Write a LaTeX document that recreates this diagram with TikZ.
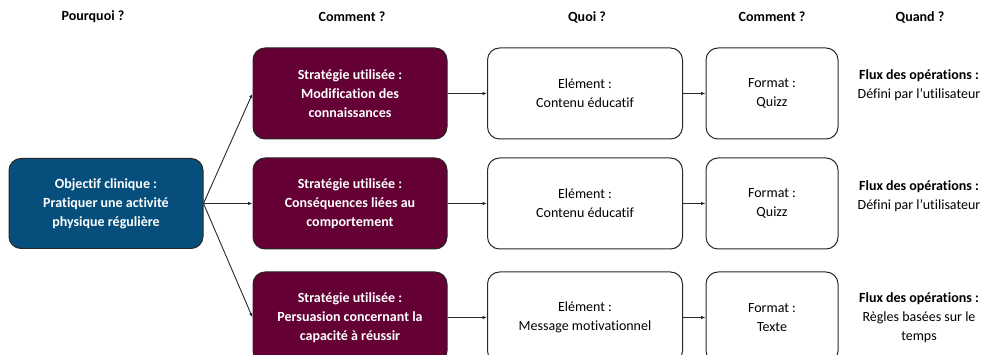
\documentclass[tikz,border=0pt]{standalone}
\usepackage{fontspec}
\setmainfont[Ligatures={NoCommon}]{Carlito}
\usetikzlibrary{arrows.meta}
\definecolor{bluebox}{RGB}{6,79,124}
\definecolor{maroon}{RGB}{100,0,52}
\definecolor{edge}{RGB}{40,40,40}
\begin{document}
\begin{tikzpicture}[x=1pt,y=1pt,
  base/.style={draw=edge,line width=1pt,rounded corners=12pt,align=center,inner sep=0pt,font=\fontsize{14}{19}\selectfont},
  goalbox/.style={base,fill=bluebox,text=white,font=\bfseries\fontsize{14}{19}\selectfont,minimum width=194pt,minimum height=90pt},
  stratbox/.style={base,fill=maroon,text=white,font=\bfseries\fontsize{14}{19}\selectfont,minimum width=194pt,minimum height=91pt},
  elembox/.style={base,fill=white,minimum width=195pt,minimum height=91pt},
  fmtbox/.style={base,fill=white,minimum width=132pt,minimum height=91pt},
  fluxtext/.style={align=center,inner sep=0pt,font=\fontsize{14}{19}\selectfont},
  header/.style={inner sep=0pt,font=\bfseries\fontsize{14}{16}\selectfont},
  conn/.style={draw=edge,line width=0.9pt,-{Latex[length=4.5pt,width=3.5pt]}}]
\useasboundingbox (0,0) rectangle (984,355);
\begin{scope}
\clip (0,0) rectangle (984,355);
% headers
\node[header] (h1) at (93,338) {Pourquoi ?};
\node[header] (h2) at (352,338) {Comment ?};
\node[header] (h3) at (587,338) {Quoi ?};
\node[header] (h4) at (772,338) {Comment ?};
\node[header] (h5) at (920,338) {Quand ?};
% goal
\node[goalbox] (goal) at (106,151.5) {Objectif clinique :\\Pratiquer une activité\\physique régulière};
% strategies
\node[stratbox] (s1) at (350,261.5) {Stratégie utilisée :\\Modification des\\connaissances};
\node[stratbox] (s2) at (350,151.5) {Stratégie utilisée :\\Conséquences liées au\\comportement};
\node[stratbox] (s3) at (350,37.5) {Stratégie utilisée :\\Persuasion concernant la\\capacité à réussir};
% elements
\node[elembox] (e1) at (585,261.5) {Elément :\\Contenu éducatif};
\node[elembox] (e2) at (585,151.5) {Elément :\\Contenu éducatif};
\node[elembox] (e3) at (585,37.5) {Elément :\\Message motivationnel};
% formats
\node[fmtbox] (f1) at (772,261.5) {Format :\\Quizz};
\node[fmtbox] (f2) at (772,151.5) {Format :\\Quizz};
\node[fmtbox] (f3) at (772,37.5) {Format :\\Texte};
% flux
\node[fluxtext] (q1) at (919,270) {\textbf{Flux des opérations :}\\Défini par l’utilisateur};
\node[fluxtext] (q2) at (919,159) {\textbf{Flux des opérations :}\\Défini par l’utilisateur};
\node[fluxtext] (q3) at (919,37) {\textbf{Flux des opérations :}\\Règles basées sur le\\temps};
% connectors
\draw[conn] (goal.east) -- (s1.west);
\draw[conn] (goal.east) -- (s2.west);
\draw[conn] (goal.east) -- (s3.west);
\draw[conn] (s1) -- (e1);
\draw[conn] (s2) -- (e2);
\draw[conn] (s3) -- (e3);
\draw[conn] (e1) -- (f1);
\draw[conn] (e2) -- (f2);
\draw[conn] (e3) -- (f3);
\end{scope}
\end{tikzpicture}
\end{document}
